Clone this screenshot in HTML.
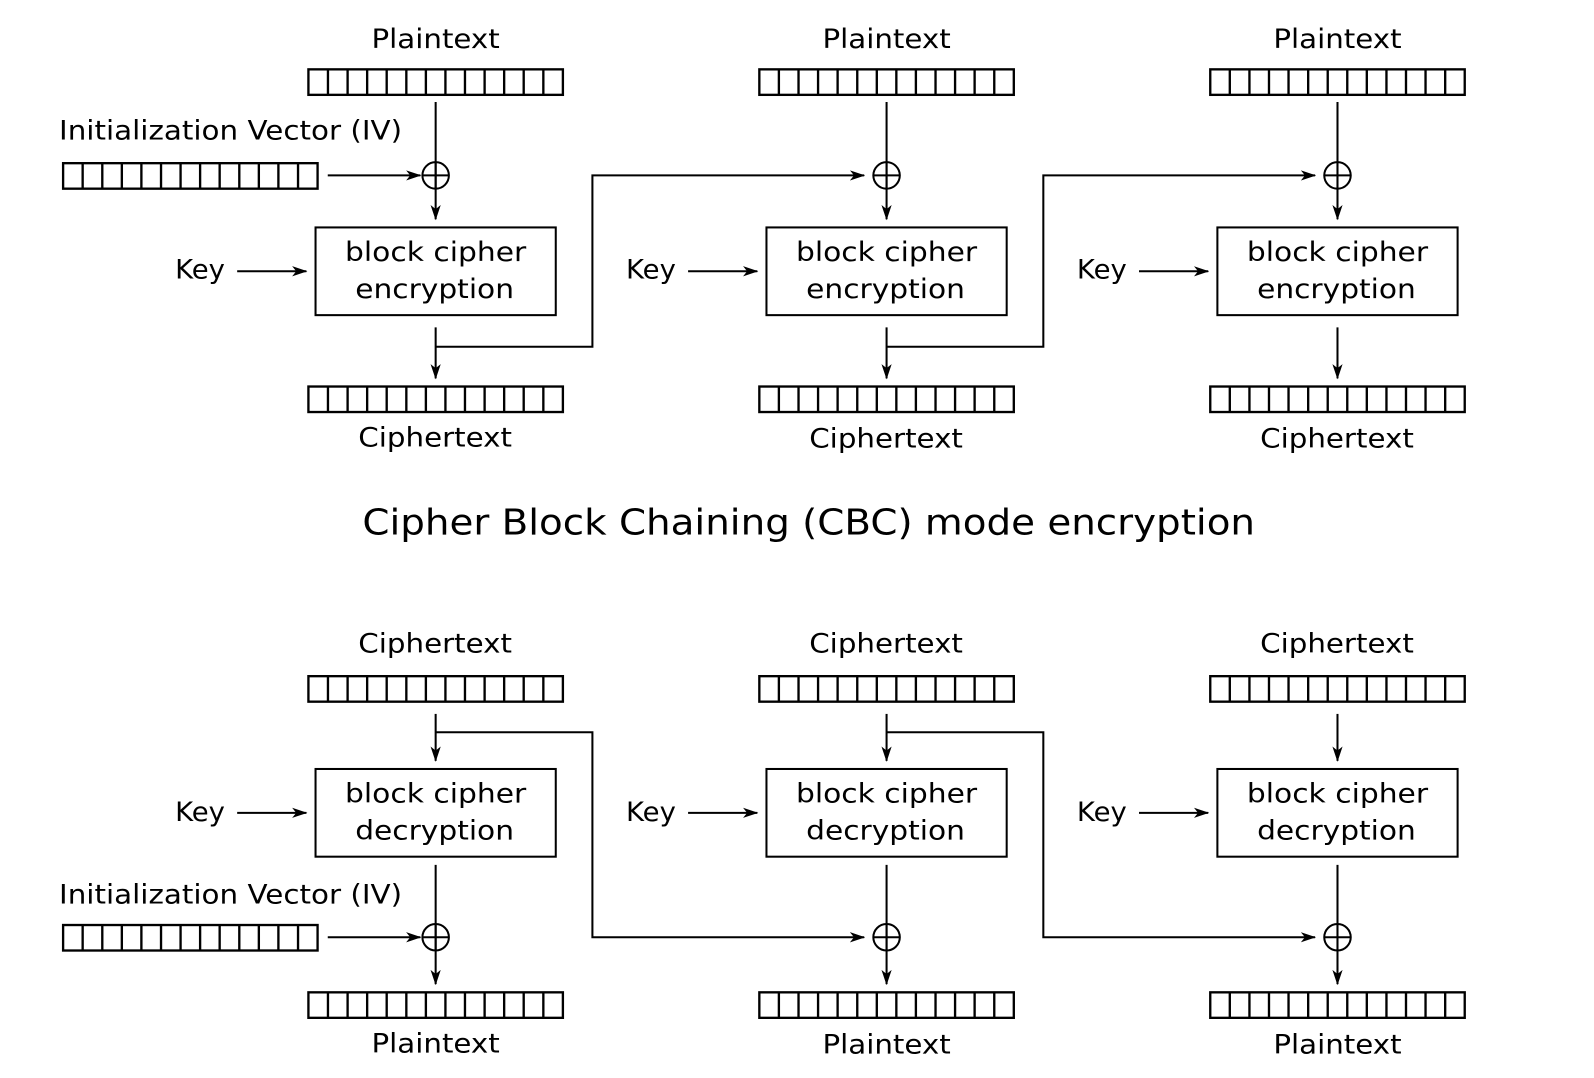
<!DOCTYPE html>
<html><head><meta charset="utf-8"><style>
html,body{margin:0;padding:0;background:#fff;}
svg{display:block;}
text{font-family:"DejaVu Sans","Liberation Sans",sans-serif;fill:#000;}
</style></head><body>
<svg width="1594" height="1078" viewBox="0 0 1566 1057" preserveAspectRatio="none" xmlns="http://www.w3.org/2000/svg">
<defs>
<marker id="a" markerWidth="15" markerHeight="12" refX="14" refY="6" orient="auto" markerUnits="userSpaceOnUse">
<path d="M0,1 L15,6 L0,11 L4,6 Z" fill="#000"/>
</marker>
<g id="strip" fill="none" stroke="#000" stroke-width="2.3">
<rect x="0" y="0" width="250" height="25"/>
<path d="M19.2,0v25M38.5,0v25M57.7,0v25M76.9,0v25M96.2,0v25M115.4,0v25M134.6,0v25M153.8,0v25M173.1,0v25M192.3,0v25M211.5,0v25M230.8,0v25"/>
</g>
<g id="xor" fill="none" stroke="#000" stroke-width="2">
<circle cx="0" cy="0" r="13"/><path d="M-13,0H13M0,-13V13"/>
</g>
</defs>
<g stroke="#000" stroke-width="2" fill="none">
<use href="#strip" x="303" y="68"/><use href="#strip" x="303" y="379"/>
<use href="#strip" x="62" y="160"/>
<line x1="322" y1="172" x2="413" y2="172" marker-end="url(#a)"/>
<line x1="428" y1="100" x2="428" y2="215" marker-end="url(#a)"/>
<use href="#xor" x="428" y="172"/>
<rect x="310" y="223" width="236" height="86"/>
<line x1="233" y1="266" x2="301" y2="266" marker-end="url(#a)"/>
<line x1="428" y1="321" x2="428" y2="371" marker-end="url(#a)"/>
<polyline points="428,340 582,340 582,172 849,172" marker-end="url(#a)"/>
<use href="#strip" x="746" y="68"/><use href="#strip" x="746" y="379"/>
<line x1="871" y1="100" x2="871" y2="215" marker-end="url(#a)"/>
<use href="#xor" x="871" y="172"/>
<rect x="753" y="223" width="236" height="86"/>
<line x1="676" y1="266" x2="744" y2="266" marker-end="url(#a)"/>
<line x1="871" y1="321" x2="871" y2="371" marker-end="url(#a)"/>
<polyline points="871,340 1025,340 1025,172 1292,172" marker-end="url(#a)"/>
<use href="#strip" x="1189" y="68"/><use href="#strip" x="1189" y="379"/>
<line x1="1314" y1="100" x2="1314" y2="215" marker-end="url(#a)"/>
<use href="#xor" x="1314" y="172"/>
<rect x="1196" y="223" width="236" height="86"/>
<line x1="1119" y1="266" x2="1187" y2="266" marker-end="url(#a)"/>
<line x1="1314" y1="321" x2="1314" y2="371" marker-end="url(#a)"/>

<use href="#strip" x="303" y="663"/><use href="#strip" x="303" y="973"/>
<use href="#strip" x="62" y="907"/>
<line x1="428" y1="700" x2="428" y2="746" marker-end="url(#a)"/>
<polyline points="428,718 582,718 582,919 849,919" marker-end="url(#a)"/>
<rect x="310" y="754" width="236" height="86"/>
<line x1="233" y1="797" x2="301" y2="797" marker-end="url(#a)"/>
<line x1="428" y1="848" x2="428" y2="965" marker-end="url(#a)"/>
<use href="#xor" x="428" y="919"/>
<line x1="322" y1="919" x2="413" y2="919" marker-end="url(#a)"/>
<use href="#strip" x="746" y="663"/><use href="#strip" x="746" y="973"/>
<line x1="871" y1="700" x2="871" y2="746" marker-end="url(#a)"/>
<polyline points="871,718 1025,718 1025,919 1292,919" marker-end="url(#a)"/>
<rect x="753" y="754" width="236" height="86"/>
<line x1="676" y1="797" x2="744" y2="797" marker-end="url(#a)"/>
<line x1="871" y1="848" x2="871" y2="965" marker-end="url(#a)"/>
<use href="#xor" x="871" y="919"/>
<use href="#strip" x="1189" y="663"/><use href="#strip" x="1189" y="973"/>
<line x1="1314" y1="700" x2="1314" y2="746" marker-end="url(#a)"/>
<rect x="1196" y="754" width="236" height="86"/>
<line x1="1119" y1="797" x2="1187" y2="797" marker-end="url(#a)"/>
<line x1="1314" y1="848" x2="1314" y2="965" marker-end="url(#a)"/>
<use href="#xor" x="1314" y="919"/>
</g>

<g font-size="26" lengthAdjust="spacingAndGlyphs">
<text x="365" y="47" textLength="126" lengthAdjust="spacingAndGlyphs">Plaintext</text>
<text x="808" y="47" textLength="126" lengthAdjust="spacingAndGlyphs">Plaintext</text>
<text x="1251" y="47" textLength="126" lengthAdjust="spacingAndGlyphs">Plaintext</text>
<text x="352" y="438" textLength="151" lengthAdjust="spacingAndGlyphs">Ciphertext</text>
<text x="795" y="439" textLength="151" lengthAdjust="spacingAndGlyphs">Ciphertext</text>
<text x="1238" y="439" textLength="151" lengthAdjust="spacingAndGlyphs">Ciphertext</text>
<text x="339" y="256" textLength="178" lengthAdjust="spacingAndGlyphs">block cipher</text>
<text x="349" y="292" textLength="156" lengthAdjust="spacingAndGlyphs">encryption</text>
<text x="782" y="256" textLength="178" lengthAdjust="spacingAndGlyphs">block cipher</text>
<text x="792" y="292" textLength="156" lengthAdjust="spacingAndGlyphs">encryption</text>
<text x="1225" y="256" textLength="178" lengthAdjust="spacingAndGlyphs">block cipher</text>
<text x="1235" y="292" textLength="156" lengthAdjust="spacingAndGlyphs">encryption</text>

<text x="352" y="640" textLength="151" lengthAdjust="spacingAndGlyphs">Ciphertext</text>
<text x="795" y="640" textLength="151" lengthAdjust="spacingAndGlyphs">Ciphertext</text>
<text x="1238" y="640" textLength="151" lengthAdjust="spacingAndGlyphs">Ciphertext</text>
<text x="365" y="1032" textLength="126" lengthAdjust="spacingAndGlyphs">Plaintext</text>
<text x="808" y="1033" textLength="126" lengthAdjust="spacingAndGlyphs">Plaintext</text>
<text x="1251" y="1033" textLength="126" lengthAdjust="spacingAndGlyphs">Plaintext</text>
<text x="339" y="787" textLength="178" lengthAdjust="spacingAndGlyphs">block cipher</text>
<text x="349" y="823" textLength="156" lengthAdjust="spacingAndGlyphs">decryption</text>
<text x="782" y="787" textLength="178" lengthAdjust="spacingAndGlyphs">block cipher</text>
<text x="792" y="823" textLength="156" lengthAdjust="spacingAndGlyphs">decryption</text>
<text x="1225" y="787" textLength="178" lengthAdjust="spacingAndGlyphs">block cipher</text>
<text x="1235" y="823" textLength="156" lengthAdjust="spacingAndGlyphs">decryption</text>

<text x="58" y="137" textLength="337" lengthAdjust="spacingAndGlyphs">Initialization Vector (IV)</text>
<text x="58" y="886" textLength="337" lengthAdjust="spacingAndGlyphs">Initialization Vector (IV)</text>
<text x="172" y="273" textLength="49" lengthAdjust="spacingAndGlyphs">Key</text>
<text x="615" y="273" textLength="49" lengthAdjust="spacingAndGlyphs">Key</text>
<text x="1058" y="273" textLength="49" lengthAdjust="spacingAndGlyphs">Key</text>
<text x="172" y="805" textLength="49" lengthAdjust="spacingAndGlyphs">Key</text>
<text x="615" y="805" textLength="49" lengthAdjust="spacingAndGlyphs">Key</text>
<text x="1058" y="805" textLength="49" lengthAdjust="spacingAndGlyphs">Key</text>
<text x="356" y="524" font-size="35" textLength="877" lengthAdjust="spacingAndGlyphs">Cipher Block Chaining (CBC) mode encryption</text>
</g>
</svg>
</body></html>
